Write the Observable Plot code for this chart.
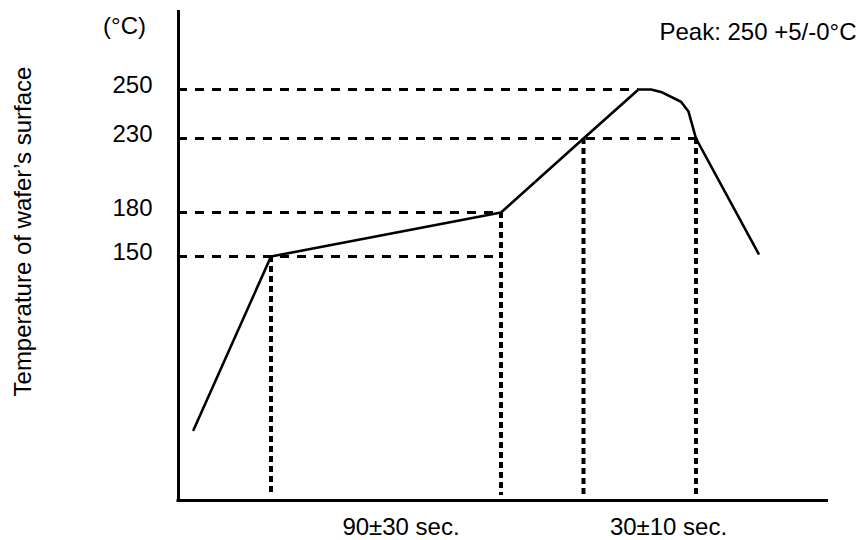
<!DOCTYPE html>
<html>
<head>
<meta charset="utf-8">
<script src="https://cdn.jsdelivr.net/npm/d3@7"></script>
<script src="https://cdn.jsdelivr.net/npm/@observablehq/plot@0.6"></script>
<style>
  html, body { margin: 0; padding: 0; background: #fff; }
</style>
</head>
<body>
<div id="chart"></div>
<script>
// Reflow profile (schematic): time in seconds, temperature in °C
const profileTime = [6, 37, 129, 162, 184, 189, 193, 201, 204, 207, 232];
const profileTemp = [32, 150, 180, 230, 250, 250, 249, 245, 241, 230, 152];

// Horizontal dashed guides: level and the time where each guide stops
const guideTemps = [150, 180, 230, 250];
const guideEnds  = [129, 129, 207, 184];

// Vertical dashed drops: time and temperature at the top of each drop
const dropTimes = [37, 129, 162, 207];
const dropTemps = [150, 180, 230, 230];

// Tick labels on the temperature axis
const tickTemps = [150, 180, 230, 250];

// Duration labels below the time axis
const durationLabels = ["90±30 sec.", "30±10 sec."];
const durationTimes  = [89, 196];

const yLabel = "Temperature of wafer’s surface";
const unitLabel = "(°C)";
const peakLabel = "Peak: 250 +5/-0°C";

const profile = profileTime.map((t, i) => ({t, T: profileTemp[i]}));
const guides = guideTemps.map((T, i) => ({T, end: guideEnds[i]}));
const drops = dropTimes.map((t, i) => ({t, T: dropTemps[i]}));
const durations = durationLabels.map((s, i) => ({s, t: durationTimes[i]}));

const tMin = 0, TMin = -16, TMax = 282;

// The drawing is schematic: the temperature axis is not uniform
// (the 230–250 band is stretched). Warp temperatures before the linear scale.
const warp = d3.scaleLinear()
  .domain([TMin, 150, 180, 230, 250, TMax])
  .range([0, 244, 288, 362, 411, 490]);

const chart = Plot.plot({
  width: 860,
  height: 540,
  marginLeft: 178,
  marginRight: 32,
  marginTop: 10,
  marginBottom: 40,
  style: {fontFamily: "'Liberation Sans', Arial, sans-serif", fontSize: "24px", background: "white", color: "black"},
  x: {domain: [0, 260], axis: null},
  y: {transform: warp, domain: [0, 490], axis: null},
  marks: [
    // dashed guides
    Plot.ruleY(guides, {y: "T", x1: tMin, x2: "end", stroke: "black", strokeWidth: 3, strokeDasharray: "9,8"}),
    Plot.ruleX(drops, {x: "t", y1: "T", y2: TMin, stroke: "black", strokeWidth: 4, strokeDasharray: "6,4", insetBottom: 5}),
    // profile curve
    Plot.line(profile, {x: "t", y: "T", stroke: "black", strokeWidth: 2.6, strokeLinejoin: "round"}),
    // axes
    Plot.ruleX([tMin], {stroke: "black", strokeWidth: 3}),
    Plot.ruleY([TMin], {stroke: "black", strokeWidth: 3, insetLeft: -1.5}),
    // tick labels
    Plot.text(tickTemps, {y: d => d, frameAnchor: "left", textAnchor: "end", lineAnchor: "middle", dx: -26, dy: -4, fontSize: 24, text: d => String(d)}),
    // unit
    Plot.text([unitLabel], {frameAnchor: "top-left", textAnchor: "middle", lineAnchor: "middle", dx: -54, dy: 16, fontSize: 24}),
    // peak note
    Plot.text([peakLabel], {frameAnchor: "top-right", textAnchor: "end", lineAnchor: "middle", dx: 28, dy: 22, fontSize: 24}),
    // y title
    Plot.text([yLabel], {frameAnchor: "left", textAnchor: "middle", lineAnchor: "middle", rotate: -90, dx: -155, dy: -24, fontSize: 24}),
    // duration labels
    Plot.text(durations, {x: "t", frameAnchor: "bottom", text: "s", lineAnchor: "middle", dy: 27, fontSize: 24})
  ]
});
document.getElementById("chart").appendChild(chart);
</script>
</body>
</html>
